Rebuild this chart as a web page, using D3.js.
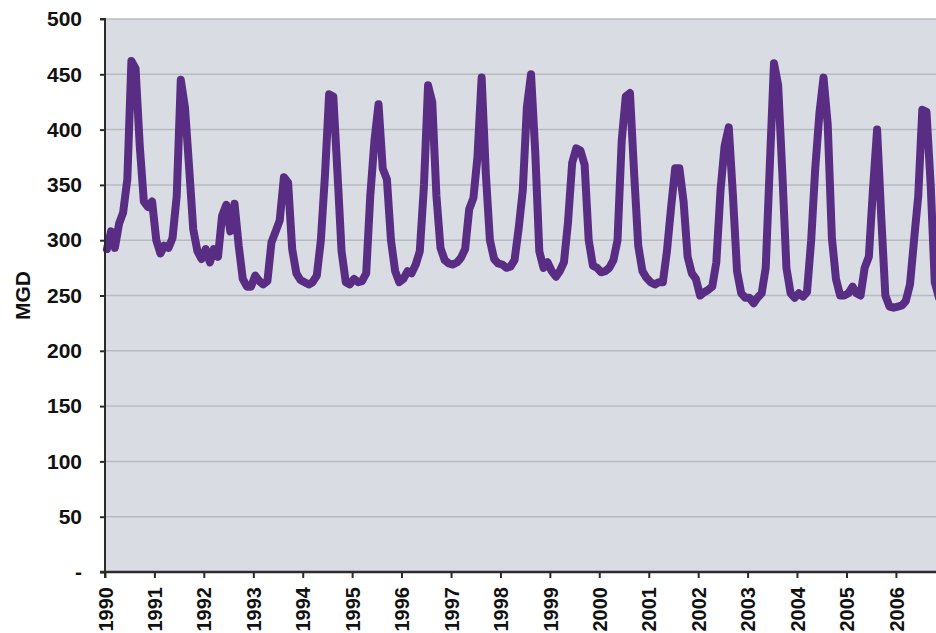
<!DOCTYPE html>
<html>
<head>
<meta charset="utf-8">
<script src="https://cdn.jsdelivr.net/npm/d3@7"></script>
<style>
  body { margin: 0; background: #fff; }
  svg { display: block; font-family: "Liberation Sans", Arial, sans-serif; }
</style>
</head>
<body>
<div id="chart"></div>
<script>
// Monthly water demand (MGD), Jan 1990 - Dec 2006, one row per year
const startYear = 1990;
const mgd = [
  292, 308, 293, 315, 325, 355, 462, 455, 385, 335, 330, 335, // 1990
  300, 288, 295, 293, 302, 340, 445, 420, 365, 310, 290, 283, // 1991
  292, 280, 292, 285, 322, 332, 308, 333, 295, 265, 258, 258, // 1992
  268, 263, 260, 263, 298, 308, 318, 357, 352, 292, 270, 264, // 1993
  262, 260, 262, 268, 300, 360, 432, 430, 360, 290, 262, 260, // 1994
  265, 262, 263, 270, 340, 390, 423, 365, 355, 300, 272, 262, // 1995
  265, 272, 270, 278, 290, 350, 440, 425, 340, 293, 282, 279, // 1996
  278, 280, 284, 292, 328, 338, 375, 447, 360, 300, 283, 279, // 1997
  278, 275, 276, 282, 310, 345, 420, 450, 380, 290, 275, 280, // 1998
  272, 267, 272, 280, 316, 370, 383, 381, 368, 300, 277, 275, // 1999
  271, 272, 275, 282, 300, 390, 430, 433, 360, 295, 272, 266, // 2000
  262, 260, 262, 262, 290, 330, 365, 365, 335, 285, 270, 265, // 2001
  250, 253, 255, 258, 280, 345, 385, 402, 340, 272, 252, 248, // 2002
  248, 243, 248, 252, 275, 370, 460, 440, 360, 275, 252, 248, // 2003
  252, 249, 253, 300, 365, 415, 447, 405, 302, 265, 250, 250, // 2004
  252, 258, 252, 250, 275, 285, 345, 400, 320, 250, 240, 239, // 2005
  240, 241, 245, 260, 300, 340, 418, 416, 350, 262, 248, 245  // 2006
];
const tickYears = d3.range(1990, 2007);
const yTicks = [0, 50, 100, 150, 200, 250, 300, 350, 400, 450, 500];

const width = 936;
const height = 633;
const margin = { top: 19, left: 105, bottom: 61 };
const yearWidth = 49.43;

const data = mgd.map((v, i) => ({
  date: new Date(startYear + Math.floor(i / 12), i % 12, 15),
  value: v
}));

const svg = d3.select("#chart")
  .append("svg")
  .attr("width", width)
  .attr("height", height);

const x = d3.scaleTime()
  .domain([new Date(1990, 0, 1), new Date(2007, 0, 1)])
  .range([margin.left, margin.left + yearWidth * 17]);

const y = d3.scaleLinear()
  .domain([0, 500])
  .range([height - margin.bottom, margin.top]);

// plot background
svg.append("rect")
  .attr("x", margin.left)
  .attr("y", y(500))
  .attr("width", width - margin.left)
  .attr("height", y(0) - y(500))
  .attr("fill", "#d9dde3");

// gridlines
svg.append("g")
  .selectAll("line")
  .data(yTicks.filter(d => d > 0))
  .join("line")
  .attr("x1", margin.left)
  .attr("x2", width)
  .attr("y1", d => y(d))
  .attr("y2", d => y(d))
  .attr("stroke", "#b7bbc0")
  .attr("stroke-width", 1.5);

// the series
const line = d3.line()
  .x(d => x(d.date))
  .y(d => y(d.value));

svg.append("path")
  .datum(data)
  .attr("fill", "none")
  .attr("stroke", "#5a2d84")
  .attr("stroke-width", 8)
  .attr("stroke-linejoin", "round")
  .attr("stroke-linecap", "round")
  .attr("d", line);

// y axis
const yAxis = svg.append("g")
  .attr("transform", `translate(${margin.left},0)`)
  .call(d3.axisLeft(y)
    .tickValues(yTicks)
    .tickSize(5)
    .tickPadding(18)
    .tickFormat(d => d === 0 ? "-" : d));
yAxis.select(".domain")
  .attr("stroke", "#2b2b2b")
  .attr("stroke-width", 2)
  .attr("d", `M-5,${y(500)}H0V${y(0) + 6}`);
yAxis.selectAll(".tick line").attr("stroke", "#2b2b2b").attr("stroke-width", 2);
yAxis.selectAll("text")
  .attr("fill", "#111")
  .style("font-size", "21px")
  .style("font-weight", "bold");

// x axis
const xAxis = svg.append("g")
  .attr("transform", `translate(0,${y(0)})`)
  .call(d3.axisBottom(x)
    .tickValues(tickYears.map(yr => new Date(yr, 0, 1)))
    .tickSize(6)
    .tickFormat(d3.timeFormat("%Y")));
xAxis.select(".domain")
  .attr("stroke", "#2b2b2b")
  .attr("stroke-width", 2.5)
  .attr("d", `M${margin.left - 5},0H${width}`);
xAxis.selectAll(".tick line").attr("stroke", "#2b2b2b").attr("stroke-width", 2);
xAxis.selectAll("text")
  .attr("fill", "#111")
  .style("font-size", "20px")
  .style("font-weight", "bold")
  .attr("text-anchor", "end")
  .attr("transform", "rotate(-90)")
  .attr("x", -15)
  .attr("y", 0)
  .attr("dy", "0.36em");

// axis title
svg.append("text")
  .attr("transform", `translate(30,${(y(0) + y(500)) / 2}) rotate(-90)`)
  .attr("text-anchor", "middle")
  .attr("fill", "#111")
  .style("font-size", "21px")
  .style("font-weight", "bold")
  .text("MGD");
</script>
</body>
</html>
